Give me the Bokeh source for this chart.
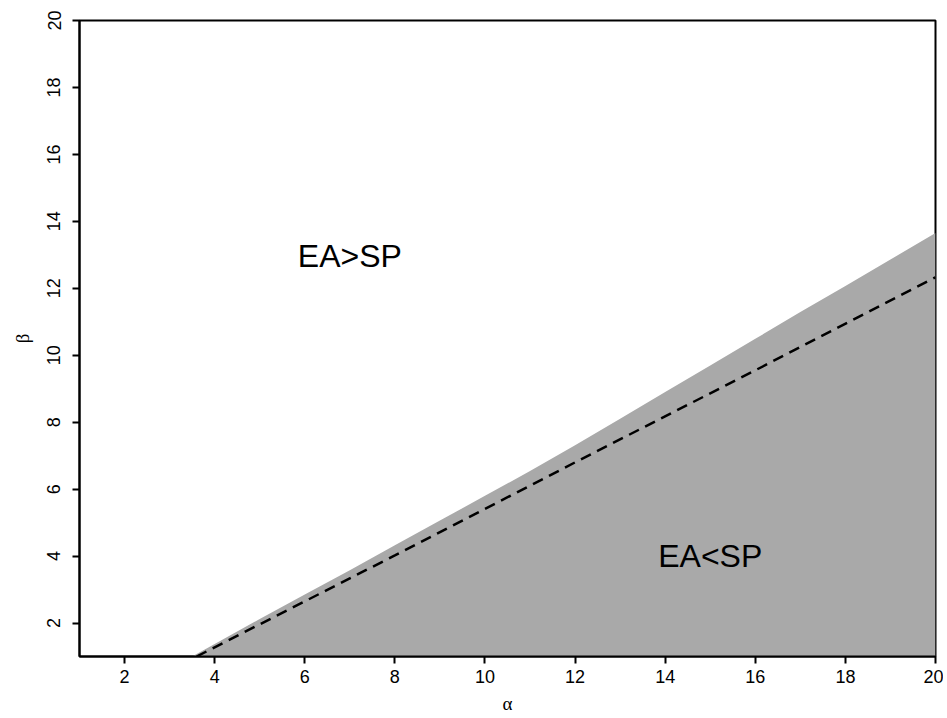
from bokeh.plotting import figure
from bokeh.models import Range1d, FixedTicker
from bokeh.core.properties import value
from bokeh.embed import file_html
from bokeh.resources import INLINE

# Region boundary (upper edge of EA<SP region)
boundary_alpha = [3.5, 4, 5, 6, 7, 8, 9, 10, 11, 12, 13, 14, 15, 16, 17, 18, 19, 20]
boundary_beta = [1.0, 1.37, 2.12, 2.85, 3.58, 4.32, 5.06, 5.80, 6.54, 7.31, 8.10,
                 8.90, 9.69, 10.49, 11.29, 12.07, 12.86, 13.65]
beta_floor = 1.0

# Dashed approximation line
dash_alpha = [3.6, 8, 12, 16, 20]
dash_beta = [1.0, 4.02, 6.80, 9.55, 12.33]

# Region labels
label_text = ["EA>SP", "EA<SP"]
label_alpha = [7.0, 15.0]
label_beta = [12.95, 4.0]

x_ticks = [2, 4, 6, 8, 10, 12, 14, 16, 18, 20]
y_ticks = [2, 4, 6, 8, 10, 12, 14, 16, 18, 20]

p = figure(width=943, height=718, output_backend="svg", toolbar_location=None,
           x_range=Range1d(1, 20), y_range=Range1d(1, 20),
           min_border_left=79, min_border_right=8, min_border_top=20, min_border_bottom=62)

p.grid.visible = False
p.background_fill_color = "white"
p.border_fill_color = "white"
p.outline_line_color = "black"
p.outline_line_width = 2

p.varea(x=boundary_alpha, y1=[beta_floor] * len(boundary_alpha), y2=boundary_beta,
        fill_color="#A9A9A9", fill_alpha=1.0)
p.line(dash_alpha, dash_beta, line_color="black", line_width=2.5, line_dash="11 7")

p.text(x=label_alpha, y=label_beta, text=label_text,
       text_font=value("Liberation Sans"), text_font_size="32px",
       text_align="center", text_baseline="middle", text_color="black")

for ax in (p.xaxis[0], p.yaxis[0]):
    ax.axis_line_width = 2
    ax.axis_line_color = "black"
    ax.major_tick_line_width = 2
    ax.major_tick_line_color = "black"
    ax.major_tick_out = 7
    ax.major_tick_in = 0
    ax.minor_tick_line_color = None
    ax.major_label_text_font = "Liberation Sans"
    ax.major_label_text_font_size = "18px"
    ax.major_label_text_color = "black"
    ax.axis_label_text_font = "Liberation Serif"
    ax.axis_label_text_font_size = "19px"
    ax.axis_label_text_font_style = "normal"
    ax.axis_label_text_color = "black"

p.xaxis[0].ticker = FixedTicker(ticks=x_ticks)
p.yaxis[0].ticker = FixedTicker(ticks=y_ticks)
p.xaxis[0].axis_label = "α"
p.yaxis[0].axis_label = "β"
p.xaxis[0].major_label_standoff = 6
p.yaxis[0].major_label_standoff = 12
p.yaxis[0].major_label_orientation = "vertical"
p.xaxis[0].axis_label_standoff = 7
p.yaxis[0].axis_label_standoff = 12

open("out.html", "w").write(file_html(p, INLINE))
